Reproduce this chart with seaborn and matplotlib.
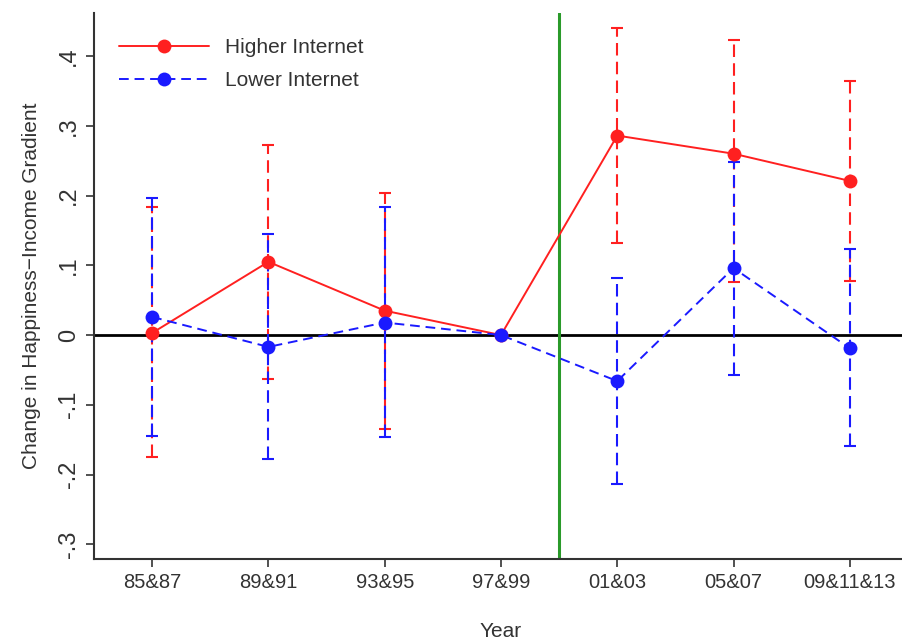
import numpy as np
import pandas as pd
import matplotlib
matplotlib.use("Agg")
import matplotlib.pyplot as plt
import seaborn as sns

# Dados
years = ["85&87", "89&91", "93&95", "97&99", "01&03", "05&07", "09&11&13"]
higher = [0.003, 0.105, 0.035, 0.0, 0.286, 0.260, 0.221]
higher_lo = [-0.175, -0.063, -0.134, 0.0, 0.132, 0.076, 0.077]
higher_hi = [0.183, 0.273, 0.204, 0.0, 0.440, 0.423, 0.364]
lower = [0.026, -0.017, 0.018, 0.0, -0.066, 0.096, -0.019]
lower_lo = [-0.145, -0.178, -0.146, 0.0, -0.213, -0.057, -0.159]
lower_hi = [0.196, 0.145, 0.183, 0.0, 0.082, 0.248, 0.123]

sns.set_style("white")
plt.rcParams["font.family"] = ["Liberation Sans", "DejaVu Sans"]

df = pd.DataFrame({
    "Year": years * 2,
    "coef": higher + lower,
    "grupo": ["Higher Internet"] * 7 + ["Lower Internet"] * 7,
})

fig = plt.figure(figsize=(9.02, 6.41), dpi=100)
ax = fig.add_axes([0.1042, 0.128, 0.9024, 0.852])

xs = np.arange(len(years))
red, blue = "#ff2020", "#1a1aff"

# Intervalos de confiança (sem o ano de referência 97&99)
mask = [y != "97&99" for y in years]
for vals, lo, hi, col in [(higher, higher_lo, higher_hi, red), (lower, lower_lo, lower_hi, blue)]:
    v = np.array(vals)[mask]
    err = [v - np.array(lo)[mask], np.array(hi)[mask] - v]
    eb = ax.errorbar(xs[mask], v, yerr=err, fmt="none", ecolor=col, elinewidth=1.5,
                     capsize=4, capthick=1.5, zorder=2)
    for lc in eb[2]:
        lc.set_linestyle((0, (6, 3)))

ax.axhline(0, color="black", lw=2, zorder=1)
ax.axvline(3.5, color="#2a9a2a", lw=2.2, zorder=1)

sns.lineplot(data=df, x="Year", y="coef", hue="grupo", style="grupo",
             palette=[red, blue], markers=["o", "o"], dashes=[(None, None), (5, 3)],
             markersize=10, markeredgewidth=0, linewidth=1.4, ax=ax, zorder=3)

ax.set_xlim(-0.5, 6.5)
ax.set_ylim(-0.321, 0.462)
ax.set_xticks(xs)
ax.set_xticklabels(years, fontsize=14.5, color="#333333")
yt = [-0.3, -0.2, -0.1, 0, 0.1, 0.2, 0.3, 0.4]
ax.set_yticks(yt)
ax.set_yticklabels(["-.3", "-.2", "-.1", "0", ".1", ".2", ".3", ".4"], rotation=90,
                   va="center", fontsize=17, color="#333333")
ax.tick_params(axis="both", length=6, width=1.2, color="#333333", direction="out",
               bottom=True, left=True, pad=4)
ax.set_xlabel("Year", fontsize=15, color="#333333", labelpad=22)
ax.set_ylabel("Change in Happiness\u2212Income Gradient", fontsize=15, color="#333333", labelpad=12)

for s in ["top", "right"]:
    ax.spines[s].set_visible(False)
for s in ["left", "bottom"]:
    ax.spines[s].set_color("#333333")
    ax.spines[s].set_linewidth(1.5)

leg = ax.legend(loc="upper left", bbox_to_anchor=(0.0, 1.0), frameon=False, fontsize=15,
                handlelength=4.3, handletextpad=0.8, borderaxespad=0.8, labelspacing=0.68)
for t in leg.get_texts():
    t.set_color("#333333")

fig.savefig("out.png", dpi=100)
